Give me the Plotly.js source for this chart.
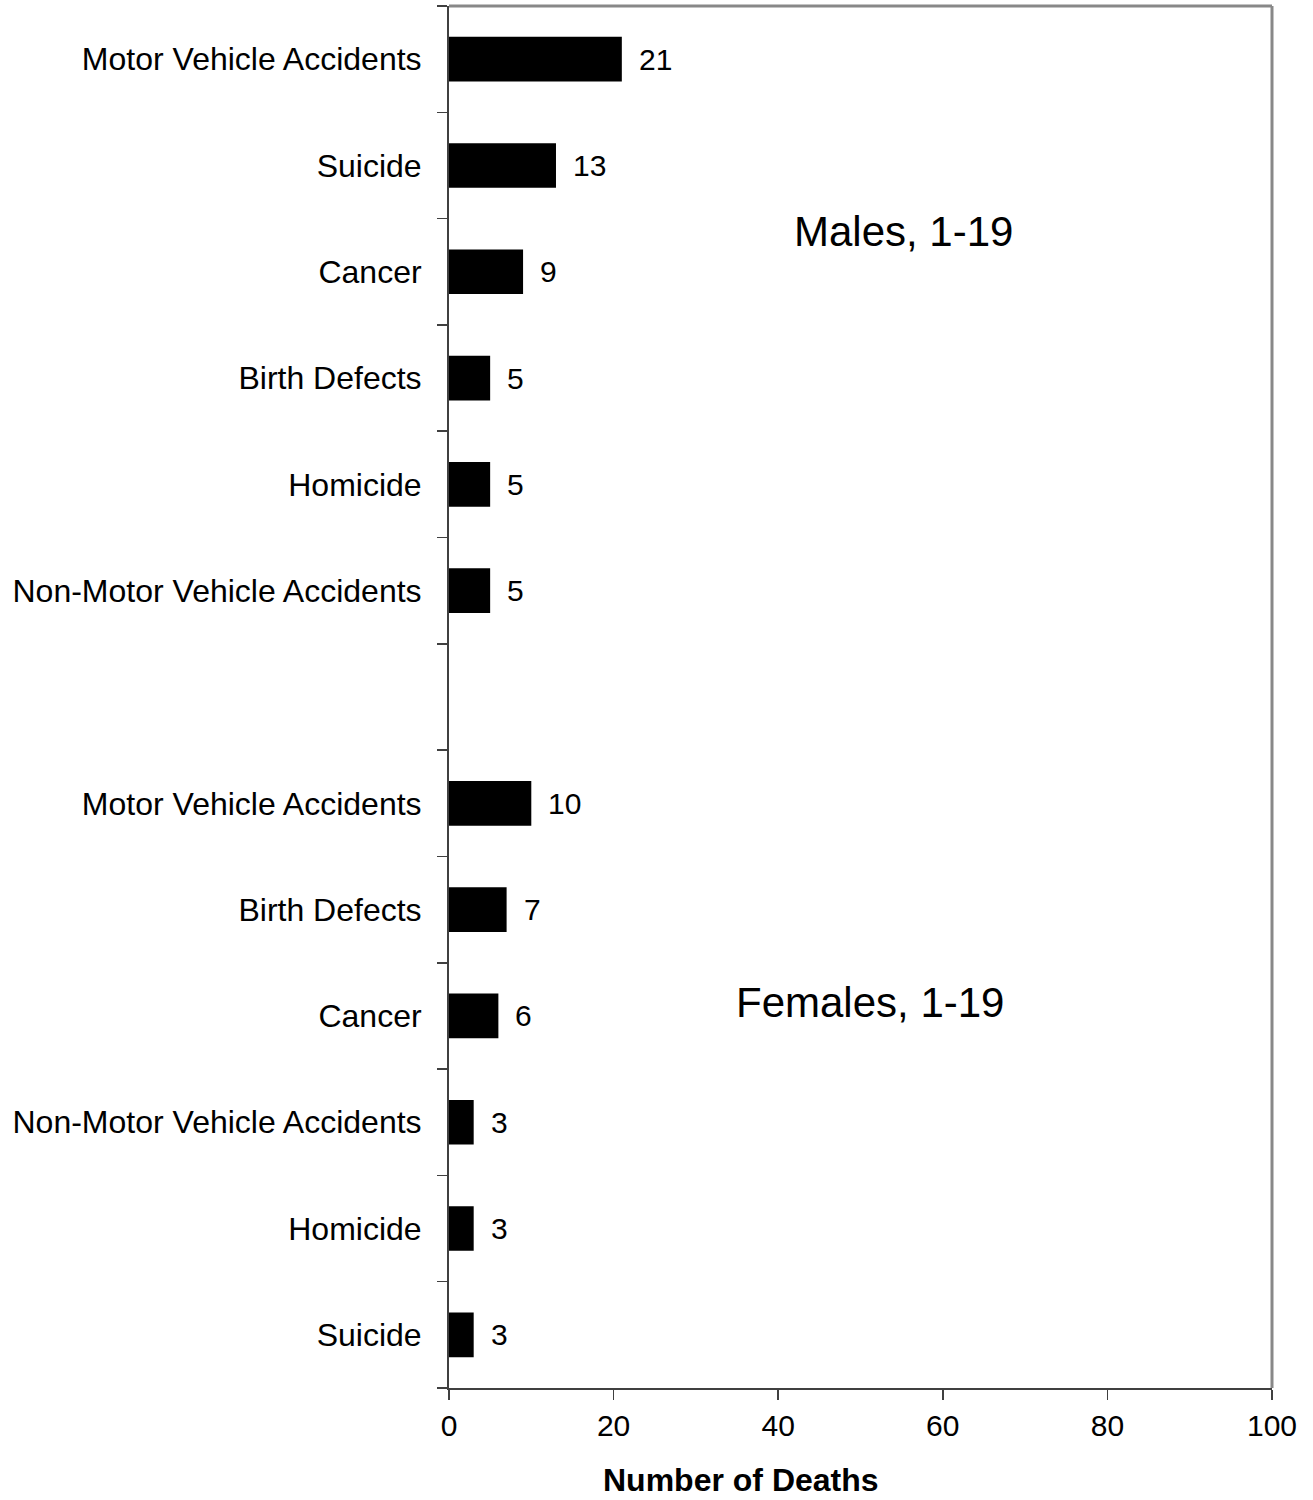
<!DOCTYPE html>
<html>
<head>
<meta charset="utf-8">
<script src="https://cdn.plot.ly/plotly-3.0.1.min.js"></script>
<style>html,body{margin:0;padding:0;background:#fff;}#chart{width:1313px;height:1500px;}</style>
</head>
<body>
<div id="chart"></div>
<script>
// Categories top to bottom ("" is the blank gap row between groups)
const categories = [
  "Motor Vehicle Accidents", "Suicide", "Cancer", "Birth Defects", "Homicide", "Non-Motor Vehicle Accidents",
  "",
  "Motor Vehicle Accidents", "Birth Defects", "Cancer", "Non-Motor Vehicle Accidents", "Homicide", "Suicide"
];
const deaths = [21, 13, 9, 5, 5, 5, null, 10, 7, 6, 3, 3, 3];
const groupLabels = ["Males, 1-19", "Females, 1-19"];
const xTicks = [0, 20, 40, 60, 80, 100];
const xTitle = "Number of Deaths";

const FONT = "Liberation Sans, Arial, sans-serif";
const idx = categories.map((c, i) => i);
const boundaries = [-0.5].concat(idx.map(i => i + 0.5));

const trace = {
  type: "bar",
  orientation: "h",
  x: deaths,
  y: idx,
  width: 0.42,
  marker: {color: "#000000"},
  hoverinfo: "skip"
};

const valueAnnotations = idx.filter(i => deaths[i] !== null).map(i => ({
  x: deaths[i], y: i, xref: "x", yref: "y",
  text: String(deaths[i]), showarrow: false,
  xanchor: "left", yanchor: "middle", xshift: 15,
  font: {family: FONT, size: 30, color: "#000"}
}));

const groupAnnotations = [
  {x: 0.552, y: 0.837, xref: "paper", yref: "paper", text: groupLabels[0], showarrow: false,
   xanchor: "center", yanchor: "middle", font: {family: FONT, size: 42, color: "#000"}},
  {x: 0.511, y: 0.279, xref: "paper", yref: "paper", text: groupLabels[1], showarrow: false,
   xanchor: "center", yanchor: "middle", font: {family: FONT, size: 42, color: "#000"}},
  {x: 0.355, y: -0.0665, xref: "paper", yref: "paper", text: "<b>" + xTitle + "</b>", showarrow: false,
   xanchor: "center", yanchor: "middle", font: {family: FONT, size: 32, color: "#000"}}
];

const layout = {
  width: 1313, height: 1500,
  margin: {l: 449, r: 41, t: 6, b: 112, pad: 0},
  paper_bgcolor: "#ffffff", plot_bgcolor: "#ffffff",
  showlegend: false,
  font: {family: FONT, color: "#000"},
  xaxis: {
    range: [0, 100], tickmode: "array", tickvals: xTicks, ticktext: xTicks.map(String),
    showline: true, linecolor: "#404040", linewidth: 2,
    ticks: "outside", ticklen: 10, tickwidth: 1.5, tickcolor: "#404040",
    showgrid: false, zeroline: false, fixedrange: true,
    tickfont: {family: FONT, size: 30, color: "#000"}
  },
  yaxis: {
    range: [categories.length - 0.5, -0.5],
    tickmode: "array", tickvals: idx, ticktext: categories,
    ticks: "", showline: true, linecolor: "#404040", linewidth: 2,
    showgrid: false, zeroline: false, fixedrange: true,
    ticklabelstandoff: 19,
    tickfont: {family: FONT, size: 32, color: "#000"},
    minor: {tickmode: "array", tickvals: boundaries, ticks: "outside", ticklen: 10, tickwidth: 1.5, tickcolor: "#404040", showgrid: false}
  },
  shapes: [
    {type: "line", xref: "paper", yref: "paper", x0: 0, x1: 1, y0: 1, y1: 1, line: {color: "#888888", width: 3}},
    {type: "line", xref: "paper", yref: "paper", x0: 1, x1: 1, y0: 0, y1: 1, line: {color: "#888888", width: 3}}
  ],
  annotations: valueAnnotations.concat(groupAnnotations)
};

Plotly.newPlot("chart", [trace], layout, {displayModeBar: false, staticPlot: true});
</script>
</body>
</html>
